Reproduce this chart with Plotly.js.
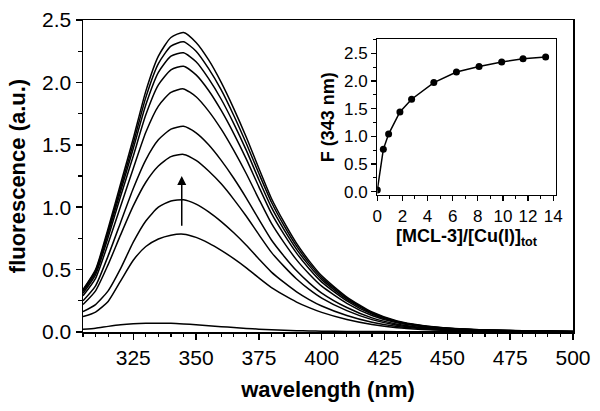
<!DOCTYPE html>
<html>
<head>
<meta charset="utf-8">
<script src="https://cdn.plot.ly/plotly-3.0.1.min.js"></script>
<style>html,body{margin:0;padding:0;background:#fff;}#chart{width:600px;height:411px;}</style>
</head>
<body>
<div id="chart"></div>
<script>
// Emission spectra (wavelength, nm)
const wavelength = [305,310,315,320,325,330,335,340,345,350,355,360,365,370,375,380,385,390,395,400,410,420,430,440,450,465,480,500];
const spec1 = [0.34,0.50,0.83,1.19,1.55,1.93,2.21,2.36,2.40,2.32,2.18,2.00,1.79,1.56,1.31,1.07,0.88,0.71,0.57,0.45,0.28,0.16,0.088,0.052,0.032,0.017,0.010,0.005];
const spec2 = [0.335,0.49,0.81,1.16,1.51,1.88,2.15,2.29,2.325,2.25,2.11,1.94,1.735,1.51,1.27,1.04,0.853,0.688,0.552,0.436,0.271,0.155,0.085,0.050,0.031,0.016,0.010,0.005];
const spec3 = [0.325,0.48,0.79,1.13,1.47,1.82,2.08,2.21,2.237,2.165,2.03,1.865,1.67,1.455,1.22,0.998,0.82,0.662,0.532,0.42,0.262,0.15,0.083,0.049,0.030,0.016,0.009,0.005];
const spec4 = [0.31,0.46,0.76,1.09,1.41,1.74,1.98,2.10,2.13,2.06,1.935,1.775,1.59,1.385,1.163,0.95,0.782,0.632,0.507,0.40,0.25,0.143,0.079,0.047,0.029,0.015,0.009,0.004];
const spec5 = [0.29,0.43,0.71,1.01,1.31,1.60,1.81,1.92,1.948,1.885,1.77,1.625,1.455,1.268,1.065,0.87,0.716,0.578,0.465,0.367,0.23,0.132,0.073,0.043,0.027,0.014,0.008,0.004];
const spec6 = [0.25,0.37,0.61,0.88,1.15,1.38,1.54,1.625,1.648,1.595,1.50,1.375,1.232,1.073,0.902,0.737,0.607,0.49,0.394,0.312,0.196,0.113,0.063,0.037,0.023,0.012,0.007,0.003];
const spec7 = [0.22,0.33,0.54,0.78,1.01,1.20,1.33,1.405,1.423,1.375,1.29,1.187,1.063,0.927,0.78,0.638,0.526,0.425,0.342,0.272,0.171,0.099,0.055,0.033,0.021,0.011,0.006,0.003];
const spec8 = [0.163,0.22,0.33,0.51,0.72,0.89,1.00,1.05,1.06,1.025,0.963,0.885,0.795,0.695,0.585,0.48,0.397,0.322,0.26,0.208,0.132,0.078,0.044,0.027,0.017,0.009,0.005,0.002];
const spec9 = [0.123,0.16,0.245,0.41,0.575,0.685,0.745,0.776,0.784,0.758,0.712,0.654,0.588,0.514,0.433,0.356,0.295,0.24,0.195,0.157,0.1,0.06,0.034,0.021,0.013,0.007,0.004,0.002];
const spec10 = [0.022,0.03,0.045,0.058,0.066,0.07,0.071,0.07,0.065,0.058,0.05,0.043,0.036,0.029,0.023,0.018,0.014,0.011,0.009,0.007,0.005,0.004,0.003,0.003,0.002,0.002,0.001,0.001];

// Inset titration data
const ratio = [0, 0.48, 0.9, 1.8, 2.73, 4.5, 6.3, 8.1, 9.9, 11.6, 13.4];
const f343 = [0.03, 0.765, 1.04, 1.44, 1.67, 1.97, 2.16, 2.26, 2.34, 2.40, 2.43];

const spectra = [spec1,spec2,spec3,spec4,spec5,spec6,spec7,spec8,spec9,spec10];
const FONT = 'Liberation Sans, Arial, Helvetica, sans-serif';

const traces = spectra.map(s => ({
  x: wavelength, y: s, type: 'scatter', mode: 'lines',
  line: {color: '#000', width: 1.5, shape: 'spline', smoothing: 0.6},
  hoverinfo: 'skip', showlegend: false, xaxis: 'x', yaxis: 'y'
}));
traces.push({
  x: ratio, y: f343, type: 'scatter', mode: 'lines+markers',
  line: {color: '#000', width: 1.5},
  marker: {color: '#000', size: 7},
  showlegend: false, xaxis: 'x2', yaxis: 'y2'
});

const layout = {
  width: 600, height: 411,
  margin: {l: 83, r: 27, t: 20, b: 79},
  paper_bgcolor: '#fff', plot_bgcolor: '#fff',
  font: {family: FONT, color: '#000'},
  xaxis: {
    range: [305, 500], tick0: 300, dtick: 25,
    ticks: 'outside', ticklen: 6, tickwidth: 1.5, tickcolor: '#000',
    minor: {dtick: 5, ticks: 'outside', ticklen: 3.5, tickwidth: 1.2, tickcolor: '#000'},
    showline: true, linewidth: 1.5, linecolor: '#000', mirror: true,
    showgrid: false, zeroline: false,
    tickfont: {size: 21, family: FONT},
    title: {text: 'wavelength (nm)', font: {size: 22, family: FONT, weight: 'bold'}, standoff: 14}
  },
  yaxis: {
    range: [0, 2.5], dtick: 0.5, tickformat: '.1f',
    ticks: 'outside', ticklen: 6, tickwidth: 1.5, tickcolor: '#000',
    minor: {dtick: 0.25, ticks: 'outside', ticklen: 3.5, tickwidth: 1.2, tickcolor: '#000'},
    showline: true, linewidth: 1.5, linecolor: '#000', mirror: true,
    showgrid: false, zeroline: false,
    tickfont: {size: 21, family: FONT},
    title: {text: 'fluorescence (a.u.)', font: {size: 22, family: FONT, weight: 'bold'}, standoff: 10}
  },
  xaxis2: {
    domain: [0.6006, 0.9647], anchor: 'y2',
    range: [0, 14.2], dtick: 2,
    ticks: 'outside', ticklen: 5, tickwidth: 1.3, tickcolor: '#000',
    minor: {dtick: 1, ticks: 'outside', ticklen: 3, tickwidth: 1, tickcolor: '#000'},
    showline: true, linewidth: 1.3, linecolor: '#000', mirror: true,
    showgrid: false, zeroline: false,
    tickfont: {size: 17, family: FONT},
    title: {text: '[MCL-3]/[Cu(I)]<sub>tot</sub>', font: {size: 18, family: FONT, weight: 'bold'}, standoff: 4}
  },
  yaxis2: {
    domain: [0.439, 0.938], anchor: 'x2',
    range: [-0.06, 2.75], dtick: 0.5, tickformat: '.1f',
    ticks: 'outside', ticklen: 5, tickwidth: 1.3, tickcolor: '#000',
    minor: {dtick: 0.25, ticks: 'outside', ticklen: 3, tickwidth: 1, tickcolor: '#000'},
    showline: true, linewidth: 1.3, linecolor: '#000', mirror: true,
    showgrid: false, zeroline: false,
    tickfont: {size: 17, family: FONT},
    title: {text: 'F (343 nm)', font: {size: 18, family: FONT, weight: 'bold'}, standoff: 4}
  },
  annotations: [{
    x: 344.3, y: 1.25, ax: 344.3, ay: 0.84, xref: 'x', yref: 'y', axref: 'x', ayref: 'y',
    showarrow: true, arrowhead: 2, arrowsize: 1.2, arrowwidth: 1.5, arrowcolor: '#000', text: ''
  }]
};

Plotly.newPlot('chart', traces, layout, {staticPlot: true, displayModeBar: false});
</script>
</body>
</html>
